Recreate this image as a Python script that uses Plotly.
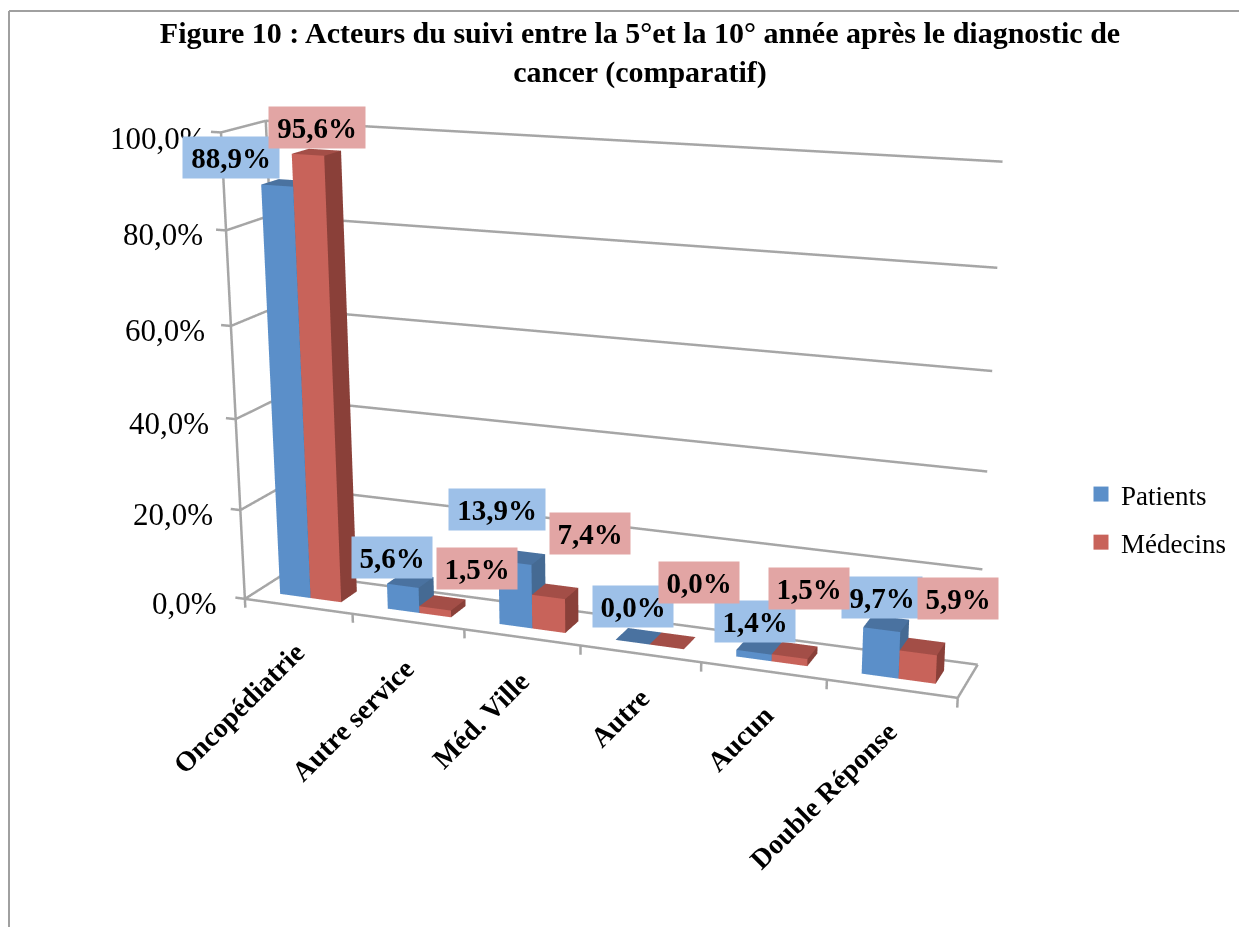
import plotly.graph_objects as go

categories = ["Oncopédiatrie", "Autre service", "Méd. Ville", "Autre", "Aucun", "Double Réponse"]
patients = [88.9, 5.6, 13.9, 0.0, 1.4, 9.7]
medecins = [95.6, 1.5, 7.4, 0.0, 1.5, 5.9]
z_ticks = [0, 20, 40, 60, 80, 100]

W, H = 1239, 927
XR, YR, ZR = (-1, 7), (-1, 2), (-20, 120)
FOVY = 0.41126  # narrow lens of the original 3-D view

COL_B = ("#5B8FC9", "#4A72A0", "#456A93")  # front, top, side
COL_R = ("#C8635A", "#A34E47", "#8A4039")


def bars(vals, x0, x1, cols):
    X, Y, Z, I, J, K, FC = [], [], [], [], [], [], []

    def quad(a, b, c, d, col):
        n = len(X)
        for q in (a, b, c, d):
            X.append(q[0]); Y.append(q[1]); Z.append(q[2])
        I.extend([n, n]); J.extend([n + 1, n + 2]); K.extend([n + 2, n + 3]); FC.extend([col, col])

    for i, v in enumerate(vals):
        a, b = i + x0, i + x1
        y0, y1 = .3, .7
        if v > 0:
            quad((a, y0, 0), (b, y0, 0), (b, y0, v), (a, y0, v), cols[0])
            quad((b, y0, 0), (b, y1, 0), (b, y1, v), (b, y0, v), cols[2])
        quad((a, y0, v), (b, y0, v), (b, y1, v), (a, y1, v), cols[1])
    return dict(x=X, y=Y, z=Z, i=I, j=J, k=K, facecolor=FC, flatshading=True,
                lighting=dict(ambient=1, diffuse=0, specular=0, fresnel=0, roughness=1),
                hoverinfo="skip", showlegend=False)


fig = go.Figure()
fig.add_trace(go.Mesh3d(**bars(patients, .2143, .5, COL_B)))
fig.add_trace(go.Mesh3d(**bars(medecins, .5, .7857, COL_R)))

LX, LY, LZ = [], [], []


def seg(a, b):
    LX.extend([a[0], b[0], None]); LY.extend([a[1], b[1], None]); LZ.extend([a[2], b[2], None])


for z in z_ticks:
    seg((-.09, 0, z), (0, 0, z)); seg((0, 0, z), (0, 1, z)); seg((0, 1, z), (6, 1, z))
seg((0, 0, 0), (0, 0, 100)); seg((0, 1, 0), (0, 1, 100))
seg((0, 0, 0), (6, 0, 0)); seg((6, 0, 0), (6, 1, 0))
for i in range(7):
    seg((i, 0, 0), (i, 0, -2))
fig.add_trace(go.Scatter3d(x=LX, y=LY, z=LZ, mode="lines", line=dict(color="#A6A6A6", width=5),
                           hoverinfo="skip", showlegend=False))
for nm, c in (("Patients", COL_B[0]), ("Médecins", COL_R[0])):
    fig.add_trace(go.Scatter3d(x=[None], y=[None], z=[None], mode="markers", name=nm, legendgroup=nm,
                               marker=dict(color=c, size=15, symbol="square")))

hidden = dict(visible=False)
fmt = lambda v: f"{v:.1f}%".replace(".", ",")
SERIF = "Liberation Serif"
ann = []


def A(text, px, py, size, bold=False, anchor="center", **kw):
    ann.append(dict(text=f"<b>{text}</b>" if bold else text, x=px / W, y=1 - py / H, xref="paper", yref="paper",
                    showarrow=False, xanchor=anchor, yanchor="middle",
                    font=dict(family=SERIF, size=size, color="black"), **kw))


for z, px, py in zip(z_ticks, [219, 215, 211, 207, 205, 208], [603, 514, 423, 330, 234, 138]):
    A(fmt(z), px, py, 31, anchor="right")
for t, px, py in zip(categories, [238, 352, 480, 619, 740, 823], [708, 720, 720, 718, 738, 795]):
    A(t, px, py, 28, bold=True, textangle=-45)
bc = [(231, 157), (392, 557), (497, 509), (633, 606), (755, 621), (882, 597)]
rc = [(317, 128), (477, 568), (590, 533), (699, 582), (809, 588), (958, 598)]
for vals, cs, col in ((patients, bc, "#9DC0E8"), (medecins, rc, "#E2A5A4")):
    for v, (px, py) in zip(vals, cs):
        A(fmt(v), px, py, 29, bold=True, bgcolor=col, width=96 if v >= 10 else 80, height=41, borderpad=0)

fig.update_layout(
    width=W, height=H, margin=dict(l=0, r=0, t=0, b=0), paper_bgcolor="white",
    title=dict(text="<b>Figure 10 : Acteurs du suivi entre la 5°et la 10° année après le diagnostic de<br>cancer (comparatif)</b>",
               x=640 / W, xanchor="center", y=1 - 43 / H, yanchor="middle",
               font=dict(family=SERIF, size=30, color="black")),
    scene=dict(domain=dict(x=[0, 1], y=[0, 1]),
               xaxis=dict(range=XR, **hidden), yaxis=dict(range=YR, **hidden), zaxis=dict(range=ZR, **hidden),
               aspectmode="manual", aspectratio=dict(x=1.4761, y=0.3897, z=1), bgcolor="white",
               camera=dict(eye=dict(x=1.1185, y=-2.8582, z=0.815), center=dict(x=0.0409, y=-0.0134, z=-0.0922),
                           up=dict(x=-0.0005, y=0.0129, z=1), projection=dict(type="perspective"))),
    legend=dict(x=1081 / W, y=1 - 470 / H, xanchor="left", yanchor="top",
                font=dict(family=SERIF, size=27, color="black"), tracegroupgap=10, itemwidth=30,
                bgcolor="rgba(0,0,0,0)"),
    annotations=ann,
    shapes=[dict(type="line", xref="paper", yref="paper", x0=9 / W, x1=9 / W, y0=0, y1=1 - 11 / H,
                 line=dict(color="#A0A0A0", width=2)),
            dict(type="line", xref="paper", yref="paper", x0=9 / W, x1=1, y0=1 - 11 / H, y1=1 - 11 / H,
                 line=dict(color="#A0A0A0", width=2))])
post = ("document.body.style.margin='0';document.body.style.overflow='hidden';"
        "var gd=document.getElementById('{plot_id}');var g=gd._fullLayout.scene._scene.glplot;"
        "g.fovy=%.5f;g.redraw();" % FOVY)
fig.write_html("out.html", post_script=post, config=dict(displayModeBar=False))
